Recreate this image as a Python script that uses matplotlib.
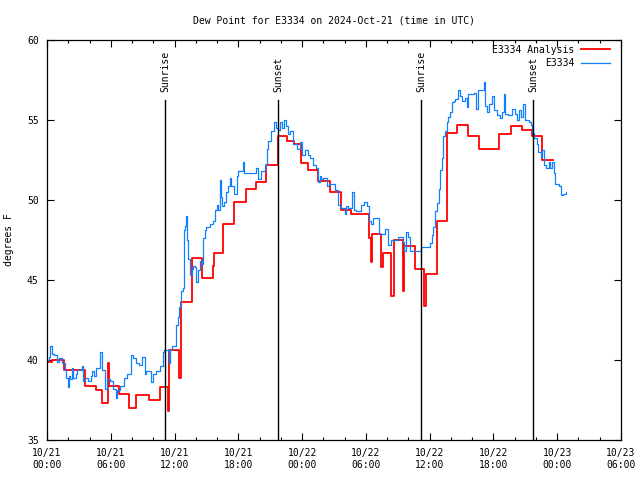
import matplotlib
matplotlib.use("Agg")
import matplotlib.pyplot as plt
from matplotlib.ticker import MultipleLocator, FixedLocator

# hours since 10/21 00:00 UTC
red_t = [0.0, 0.5, 1.6, 3.6, 4.6, 5.2, 5.7, 5.85, 6.8, 7.7, 8.4, 9.6, 10.6,
         11.35, 11.5, 12.45, 12.6, 13.6, 14.6, 15.6, 15.7, 16.6, 17.6, 18.7,
         19.7, 20.6, 21.7, 22.6, 23.2, 23.9, 24.6, 25.5, 26.6, 27.7, 28.6,
         30.3, 30.45, 30.6, 31.45, 31.6, 32.4, 32.6, 33.45, 33.6, 34.6, 35.5,
         35.65, 36.65, 37.6, 38.6, 39.6, 40.6, 42.55, 43.65, 44.65, 45.6,
         46.6, 47.6]
red_v = [39.9, 40.0, 39.4, 38.4, 38.1, 37.3, 39.8, 38.4, 37.9, 37.0, 37.8, 37.5, 38.3,
         36.8, 40.6, 38.9, 43.6, 46.4, 45.1, 45.9, 46.7, 48.5, 49.9, 50.7,
         51.1, 52.2, 54.0, 53.7, 53.5, 52.3, 51.9, 51.2, 50.5, 49.4, 49.1,
         47.6, 46.1, 47.9, 45.8, 46.7, 44.0, 47.5, 44.3, 47.1, 45.7, 43.4,
         45.4, 48.7, 54.2, 54.7, 54.0, 53.2, 54.1, 54.6, 54.4, 54.0,
         52.5, 52.5]

blue_t = [0.0, 0.15, 0.28, 0.45, 0.7, 0.95, 1.15, 1.45, 1.65, 1.8, 1.95, 2.05,
          2.2, 2.32, 2.45, 2.7, 2.8, 3.25, 3.35, 3.6, 3.9, 4.1, 4.25, 4.4, 4.65,
          5.0, 5.2, 5.45, 5.6, 5.9, 6.2, 6.45, 6.6, 6.9, 7.2, 7.5, 7.9, 8.1,
          8.4, 8.7, 8.9, 9.2, 9.35, 9.8, 9.95, 10.3, 10.6, 10.9, 11.0, 11.45,
          11.6, 11.75, 12.1, 12.3, 12.45, 12.65, 12.8, 12.9, 13.0, 13.05, 13.15,
          13.3, 13.45, 13.6, 13.75, 13.95, 14.05, 14.25, 14.4, 14.55, 14.7,
          14.85, 15.0, 15.3, 15.6, 15.8, 15.95, 16.1, 16.27, 16.35, 16.5,
          16.65, 16.85, 17.05, 17.2, 17.35, 17.55, 17.85, 18.0, 18.45, 18.5,
          19.7, 19.85, 20.15, 20.5, 20.65, 20.8, 21.1, 21.4, 21.55, 21.75,
          21.9, 22.1, 22.3, 22.5, 22.7, 22.9, 23.17, 23.5, 23.8, 24.0, 24.27,
          24.6, 24.74, 25.05, 25.3, 25.5, 25.65, 25.8, 26.0, 26.3, 26.5, 27.1,
          27.4, 27.65, 28.0, 28.15, 28.3, 28.7, 28.85, 29.1, 29.5, 29.85,
          30.07, 30.3, 30.5, 30.7, 31.2, 31.8, 32.1, 32.4, 33.05, 33.5, 33.6,
          33.8, 34.0, 34.15, 35.18, 36.03, 36.2, 36.34, 36.5, 36.66, 36.88,
          36.97, 37.13, 37.3, 37.44, 37.6, 37.75, 37.9, 38.07, 38.25, 38.4,
          38.7, 38.85, 39.0, 39.3, 39.5, 39.6, 40.2, 40.35, 40.5, 41.1, 41.2,
          41.4, 41.58, 41.83, 42.08, 42.3, 42.6, 42.8, 43.0, 43.1, 43.4, 43.7,
          44.0, 44.25, 44.4, 44.6, 44.8, 44.97, 45.3, 45.55, 45.65, 45.85,
          46.06, 46.2, 46.45, 46.55, 46.75, 46.9, 47.2, 47.35, 47.5, 47.65,
          47.75, 48.2, 48.35, 48.5, 48.8]
blue_v = [40.0, 40.2, 40.9, 40.4, 40.3, 39.9, 40.1, 39.8, 39.4, 38.9, 38.3, 39.0,
          38.8, 39.5, 38.9, 39.1, 39.4, 39.6, 38.7, 38.9, 38.7, 39.0, 39.3, 39.0, 39.5,
          40.5, 39.4, 38.2, 38.8, 38.7, 38.2, 37.6, 38.1, 38.4, 38.9, 39.1, 40.3, 40.1,
          39.8, 39.7, 40.2, 39.1, 39.3, 38.6, 39.1, 39.3, 39.6, 40.5, 40.6, 39.8,
          40.7, 40.9, 42.2, 42.7, 43.3, 44.3, 44.5, 48.1, 48.4, 49.0, 47.5,
          46.3, 45.3, 45.7, 45.9, 45.8, 44.9, 45.6, 46.2, 46.0, 47.6,
          48.1, 48.3, 48.5, 48.7, 49.4, 49.7, 49.4, 51.25, 50.2, 49.6,
          49.9, 50.5, 50.9, 51.4, 50.9, 50.4, 51.5, 51.8, 52.4, 51.7,
          52.0, 51.3, 51.8, 52.2, 53.2, 53.7, 54.3, 54.9, 54.5, 54.4,
          54.9, 54.5, 55.0, 54.6, 54.1, 54.3, 53.5, 53.2, 53.65, 52.8, 53.1,
          52.8, 52.6, 52.2, 52.0, 51.1, 51.5, 51.3, 51.4, 50.9, 51.0, 50.6,
          49.7, 49.5, 49.1, 49.6, 49.5, 50.5, 49.4, 49.3, 49.7, 49.9,
          49.6, 48.7, 48.5, 48.85, 47.9, 48.2, 47.2, 47.5, 47.7, 47.4, 46.8,
          48.0, 47.7, 46.8, 47.05, 47.3, 47.8, 48.3, 49.3, 49.8, 50.7,
          51.9, 52.6, 54.0, 54.3, 54.9, 55.2, 55.5, 56.1, 56.2, 56.3,
          56.9, 56.5, 56.2, 56.4, 55.8, 56.6, 56.7, 55.7, 56.9, 57.4, 55.9,
          55.5, 56.0, 56.5, 55.6, 55.3, 55.1, 55.5, 56.6, 55.4, 55.3, 55.7,
          55.4, 55.0, 55.6, 55.2, 56.0, 55.0, 54.9, 54.7, 54.2, 53.9,
          53.5, 53.0, 52.7, 53.1, 52.2, 52.0, 52.4, 52.0, 52.4, 51.7,
          51.0, 50.9, 50.3, 50.4, 50.5]

sun_t = [11.13, 21.76, 35.23, 45.75]
sun_labels = ["Sunrise", "Sunset", "Sunrise", "Sunset"]

tick_hours = [0, 6, 12, 18, 24, 30, 36, 42, 48, 54]
tick_labels = ["10/21\n00:00", "10/21\n06:00", "10/21\n12:00", "10/21\n18:00",
               "10/22\n00:00", "10/22\n06:00", "10/22\n12:00", "10/22\n18:00",
               "10/23\n00:00", "10/23\n06:00"]

plt.rcParams['font.family'] = ['DejaVu Sans Mono']
plt.rcParams['font.size'] = 7

fig = plt.figure(figsize=(6.4, 4.8), dpi=100)
ax = fig.add_axes([47 / 640, 40 / 480, 574 / 640, 400 / 480])

ax.plot(red_t, red_v, drawstyle='steps-post', color='#ff0000', lw=1.3,
        label='E3334 Analysis')
ax.plot(blue_t, blue_v, drawstyle='steps-post', color='#1080ff', lw=0.9,
        label='E3334')

for t, lab in zip(sun_t, sun_labels):
    ax.plot([t, t], [35, 56.25], color='black', lw=1.0)
    ax.text(t, 56.75, lab, rotation=90, ha='center', va='bottom', fontsize=7)

ax.set_xlim(0, 54)
ax.set_ylim(35, 60)
ax.xaxis.set_major_locator(FixedLocator(tick_hours))
ax.set_xticklabels(tick_labels)
ax.xaxis.set_minor_locator(MultipleLocator(2))
ax.yaxis.set_major_locator(MultipleLocator(5))
ax.tick_params(which='both', direction='in', top=True, right=True, width=0.8)
ax.tick_params(which='major', length=5, pad=6)
ax.tick_params(which='minor', length=2.5)
for s in ax.spines.values():
    s.set_linewidth(0.9)

ax.set_title('Dew Point for E3334 on 2024-Oct-21 (time in UTC)', fontsize=7, pad=12)
ax.set_ylabel('degrees F')
ax.yaxis.set_label_coords(-0.058, 0.5)

ax.legend(loc='upper right', frameon=False, markerfirst=False, fontsize=7,
          handlelength=3.0, handletextpad=0.7, labelspacing=0.35,
          borderaxespad=0.3, borderpad=0.2, bbox_to_anchor=(0.99, 1.0))

fig.savefig('out.png', dpi=100)
